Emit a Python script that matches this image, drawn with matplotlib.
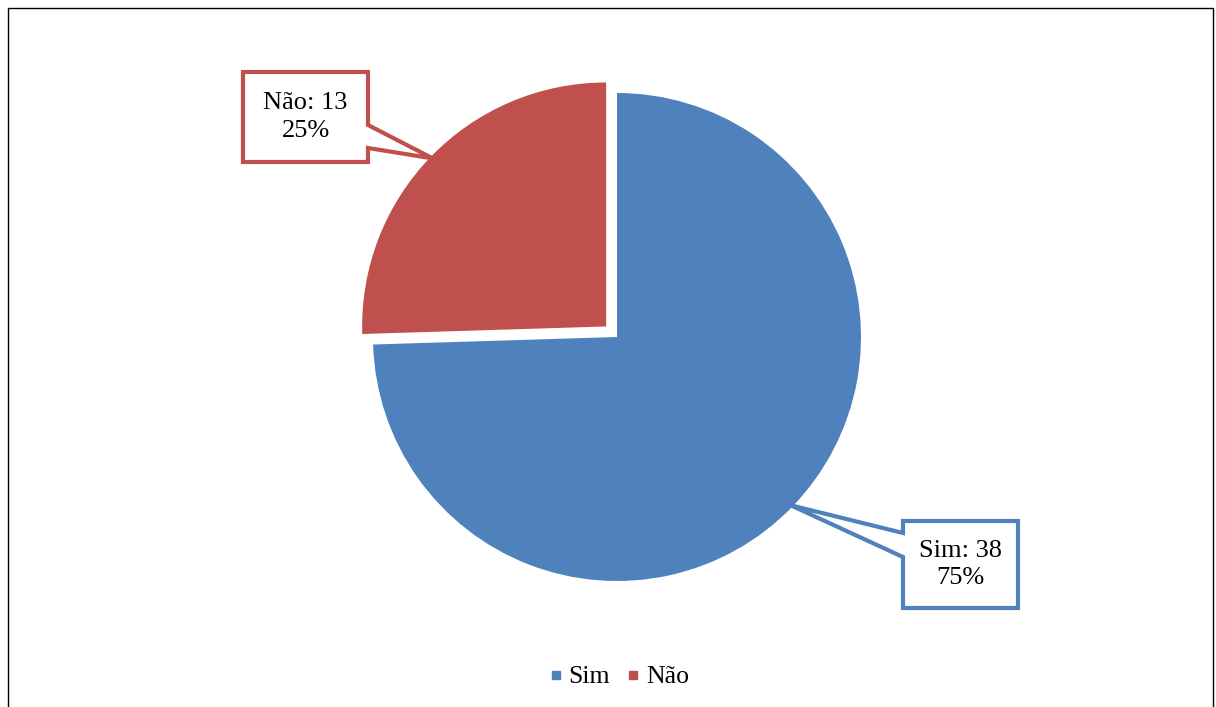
import numpy as np
import matplotlib
matplotlib.use('Agg')
import matplotlib.pyplot as plt
from matplotlib.patches import Polygon, Rectangle
from matplotlib.lines import Line2D

plt.rcParams['font.family'] = ['Liberation Serif', 'DejaVu Serif']

labels = ['Sim', 'Não']
counts = [38, 13]
colors = ['#4F81BD', '#C0504D']
explode = [0, 0.062]

W, H = 1216, 707
CX, CY, R = 617, 337, 244   # pie centre / radius in pixels


def px(x, y):
    # pixel position (from top-left) -> data coords of the pie axes
    return ((x - CX) / R, (CY - y) / R)


fig = plt.figure(figsize=(W / 100, H / 100), dpi=100)
ax = fig.add_axes([0, 0, 1, 1])

wedges, _ = ax.pie(counts, colors=colors, explode=explode, startangle=90,
                   counterclock=False, radius=1,
                   wedgeprops=dict(linewidth=0))
ax.set_aspect('auto')
ax.set_xlim(-CX / R, (W - CX) / R)
ax.set_ylim(-(H - CY) / R, CY / R)
ax.axis('off')

total = sum(counts)

# callout boxes: (left, top, right, bottom) in pixels, side of pointer, pointer y-range
boxes = [
    dict(box=(903, 521, 1018, 608), side='left', py=(533, 557)),
    dict(box=(243, 72, 368, 162), side='right', py=(125, 148)),
]

for w, lab, n, col, ex, b in zip(wedges, labels, counts, colors, explode, boxes):
    mid = np.deg2rad((w.theta1 + w.theta2) / 2)
    tip = ((1 + ex) * np.cos(mid) * 0.99, (1 + ex) * np.sin(mid) * 0.99)
    l, t, r, bt = b['box']
    p1, p2 = b['py']
    if b['side'] == 'left':
        pts = [px(l, t), px(r, t), px(r, bt), px(l, bt), px(l, p2), tip, px(l, p1)]
    else:
        pts = [px(l, t), px(r, t), px(r, p1), tip, px(r, p2), px(r, bt), px(l, bt)]
    ax.add_patch(Polygon(pts, closed=True, facecolor='white', edgecolor=col,
                         linewidth=3, joinstyle='miter', zorder=5))
    tx, ty = px((l + r) / 2, (t + bt) / 2)
    pct = round(100 * n / total)
    ax.text(tx, ty, f'{lab}: {n}\n{pct}%', ha='center', va='center',
            fontsize=19, linespacing=1.3, zorder=6)

handles = [Line2D([], [], marker='s', linestyle='none', markersize=6,
                  markerfacecolor=c, markeredgecolor=c) for c in colors]
fig.legend(handles, labels, loc='center', bbox_to_anchor=(618 / W, 1 - 677 / H),
           ncol=2, frameon=False, fontsize=18.5, handletextpad=0.15,
           columnspacing=0.55, handlelength=0.7)

fig.patches.append(Rectangle((8 / W, -0.01), (1213 - 8) / W, 1 - 8 / H + 0.01,
                             transform=fig.transFigure, fill=False,
                             edgecolor='black', linewidth=1))

fig.savefig('out.png', dpi=100)
